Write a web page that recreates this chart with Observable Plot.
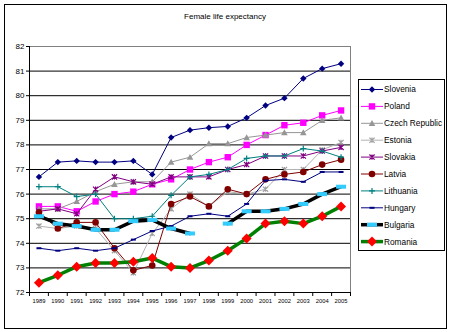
<!DOCTYPE html>
<html><head><meta charset="utf-8">
<script src="https://cdn.jsdelivr.net/npm/d3@7"></script>
<script src="https://cdn.jsdelivr.net/npm/@observablehq/plot@0.6"></script>
<style>
body{margin:0;background:#fff;}
#wrap{position:relative;width:450px;height:332px;font-family:"Liberation Sans",Arial,sans-serif;background:#fff;}
#frame{position:absolute;left:4px;top:4px;width:443px;height:325px;border:1px solid #000;box-sizing:border-box;pointer-events:none}
#title{position:absolute;left:0;width:450px;top:12px;text-align:center;font-size:8px;line-height:10px;color:#000}
#legend{position:absolute;left:358px;top:79px;width:87px;height:172px;border:1px solid #000;box-sizing:border-box;background:#fff}
#chart{position:absolute;left:0;top:0}
</style></head>
<body>
<div id="wrap"><div id="chart"></div><div id="title">Female life expectancy</div><div id="legend"></div><div id="frame"></div></div>
<script>
const years = [1989,1990,1991,1992,1993,1994,1995,1996,1997,1998,1999,2000,2001,2002,2003,2004,2005];
const yTicks = [72,73,74,75,76,77,78,79,80,81,82];
const countries = ["Slovenia","Poland","Czech Republic","Estonia","Slovakia","Latvia","Lithuania","Hungary","Bulgaria","Romania"];
const slovenia  = [76.7,77.3,77.35,77.3,77.3,77.35,76.8,78.3,78.6,78.7,78.75,79.1,79.6,79.9,80.7,81.1,81.3];
const poland    = [75.5,75.5,75.3,75.7,76.0,76.1,76.4,76.6,77.0,77.3,77.5,78.0,78.4,78.8,78.9,79.2,79.4];
const czech     = [75.4,75.4,75.7,76.1,76.4,76.5,76.5,77.3,77.5,78.05,78.05,78.3,78.4,78.5,78.5,79.0,79.1];
const estonia   = [74.7,74.6,74.7,74.6,73.7,72.8,74.4,75.4,76.0,75.5,76.1,76.0,76.2,77.0,77.0,77.8,78.1];
const slovakia  = [75.3,75.4,75.2,76.2,76.7,76.5,76.4,76.7,76.7,76.7,77.0,77.2,77.55,77.55,77.55,77.75,77.9];
const latvia    = [75.25,74.6,74.85,74.85,73.8,72.9,73.1,75.6,75.9,75.5,76.2,76.0,76.6,76.8,76.9,77.2,77.4];
const lithuania = [76.3,76.3,75.9,76.0,75.0,75.0,75.1,75.95,76.7,76.8,77.0,77.45,77.55,77.55,77.85,77.75,77.5];
const hungary   = [73.8,73.7,73.8,73.7,73.8,74.15,74.5,74.7,75.1,75.2,75.1,75.6,76.55,76.6,76.5,76.9,76.9];
const bulgaria  = [75.1,74.8,74.7,74.55,74.55,74.9,74.95,74.6,74.4,null,74.8,75.3,75.3,75.4,75.6,76.0,76.3];
const romania   = [72.4,72.7,73.05,73.2,73.2,73.25,73.4,73.05,73.0,73.3,73.7,74.2,74.8,74.9,74.8,75.1,75.5];
const values = [slovenia,poland,czech,estonia,slovakia,latvia,lithuania,hungary,bulgaria,romania];

// marker shapes
const S = {
  diamond:(r)=>({draw(c){c.moveTo(0,-r);c.lineTo(r,0);c.lineTo(0,r);c.lineTo(-r,0);c.closePath();}}),
  square:(r)=>({draw(c){c.rect(-r,-r,2*r,2*r);}}),
  triangle:(r)=>({draw(c){c.moveTo(0,-r);c.lineTo(r,r*0.8);c.lineTo(-r,r*0.8);c.closePath();}}),
  asterisk:(r)=>({draw(c){c.moveTo(-r,-r);c.lineTo(r,r);c.moveTo(-r,r);c.lineTo(r,-r);c.moveTo(0,-r);c.lineTo(0,r);}}),
  plus:(r)=>({draw(c){c.moveTo(-r,0);c.lineTo(r,0);c.moveTo(0,-r);c.lineTo(0,r);}}),
  circle:(r)=>({draw(c){c.moveTo(r,0);c.arc(0,0,r,0,2*Math.PI);}}),
  dash:(w,h)=>({draw(c){c.rect(-w/2,-h/2,w,h);}})
};
const styles = [
  {line:"#000080", lw:1, sym:S.diamond(3.2), fill:"#000080", stroke:"none"},
  {line:"#ff00ff", lw:1, sym:S.square(3.2), fill:"#ff00ff", stroke:"none"},
  {line:"#969696", lw:1, sym:S.triangle(3.3), fill:"#969696", stroke:"none"},
  {line:"#b2b2b2", lw:1, sym:S.asterisk(2.6), fill:"none", stroke:"#a0a0a0"},
  {line:"#800080", lw:1, sym:S.asterisk(2.6), fill:"none", stroke:"#800080"},
  {line:"#800000", lw:1, sym:S.circle(3.3), fill:"#800000", stroke:"none"},
  {line:"#008080", lw:1, sym:S.plus(3), fill:"none", stroke:"#008080"},
  {line:"#000080", lw:1, sym:S.dash(5,2), fill:"#000080", stroke:"none"},
  {line:"#000000", lw:3.5, sym:S.dash(10,4), fill:"#33ccff", stroke:"none"},
  {line:"#008000", lw:3.5, sym:S.diamond(5), fill:"#ff0000", stroke:"none"}
];

const marks = [];
marks.push(Plot.ruleY(yTicks.filter(v=>v>72 && v<82), {stroke:"#000", strokeWidth:1}));
marks.push(Plot.ruleY([82], {stroke:"#808080"}));
marks.push(Plot.ruleX([2005.5], {stroke:"#808080"}));
marks.push(Plot.axisY({ticks:yTicks, tickSize:3, tickPadding:2, fontSize:8, tickFormat:d=>String(d), label:null}));
marks.push(Plot.axisX({ticks:years, tickSize:0, tickPadding:6, fontSize:5.8, tickFormat:d=>String(d), label:null}));
const bounds = years.map(y=>y-0.5).concat([years[years.length-1]+0.5]);
marks.push(Plot.ruleX(bounds, {y1:72, y2:72, insetBottom:-4, stroke:"#000"}));
marks.push(Plot.ruleX([bounds[0]], {stroke:"#000"}));
marks.push(Plot.ruleY([72], {stroke:"#000"}));

countries.forEach((name,i)=>{
  const rows = years.map((yr,j)=>({year:yr, value:values[i][j]}));
  const st = styles[i];
  marks.push(Plot.line(rows, {x:"year", y:"value", stroke:st.line, strokeWidth:st.lw}));
  marks.push(Plot.dot(rows.filter(d=>d.value!=null), {x:"year", y:"value", symbol:st.sym, fill:st.fill, stroke:st.stroke, strokeWidth:1.2, r:3}));
});

const chart = Plot.plot({
  width:450, height:332,
  marginLeft:29, marginRight:100, marginTop:46, marginBottom:40,
  style:{fontFamily:"Liberation Sans, Arial, sans-serif", color:"#000", background:"transparent"},
  x:{domain:[1988.5,2005.5]},
  y:{domain:[72,82]},
  marks
});
document.getElementById("chart").appendChild(chart);

// legend
const lg = d3.select("#legend").append("svg").attr("width",85).attr("height",170);
countries.forEach((name,i)=>{
  const st = styles[i];
  const y = 9.5 + i*16.9;
  const g = lg.append("g").attr("transform",`translate(0,${y})`);
  g.append("line").attr("x1",2).attr("x2",24).attr("y1",0).attr("y2",0).attr("stroke",st.line).attr("stroke-width",st.lw);
  g.append("path").attr("transform","translate(13,0)").attr("d",d3.symbol(st.sym)()).attr("fill",st.fill).attr("stroke",st.stroke).attr("stroke-width",1.2);
  g.append("text").attr("x",25).attr("y",0).attr("dy","0.35em").attr("font-size",8.3).attr("font-family","Liberation Sans, Arial, sans-serif").text(name);
});
</script>
</body></html>
